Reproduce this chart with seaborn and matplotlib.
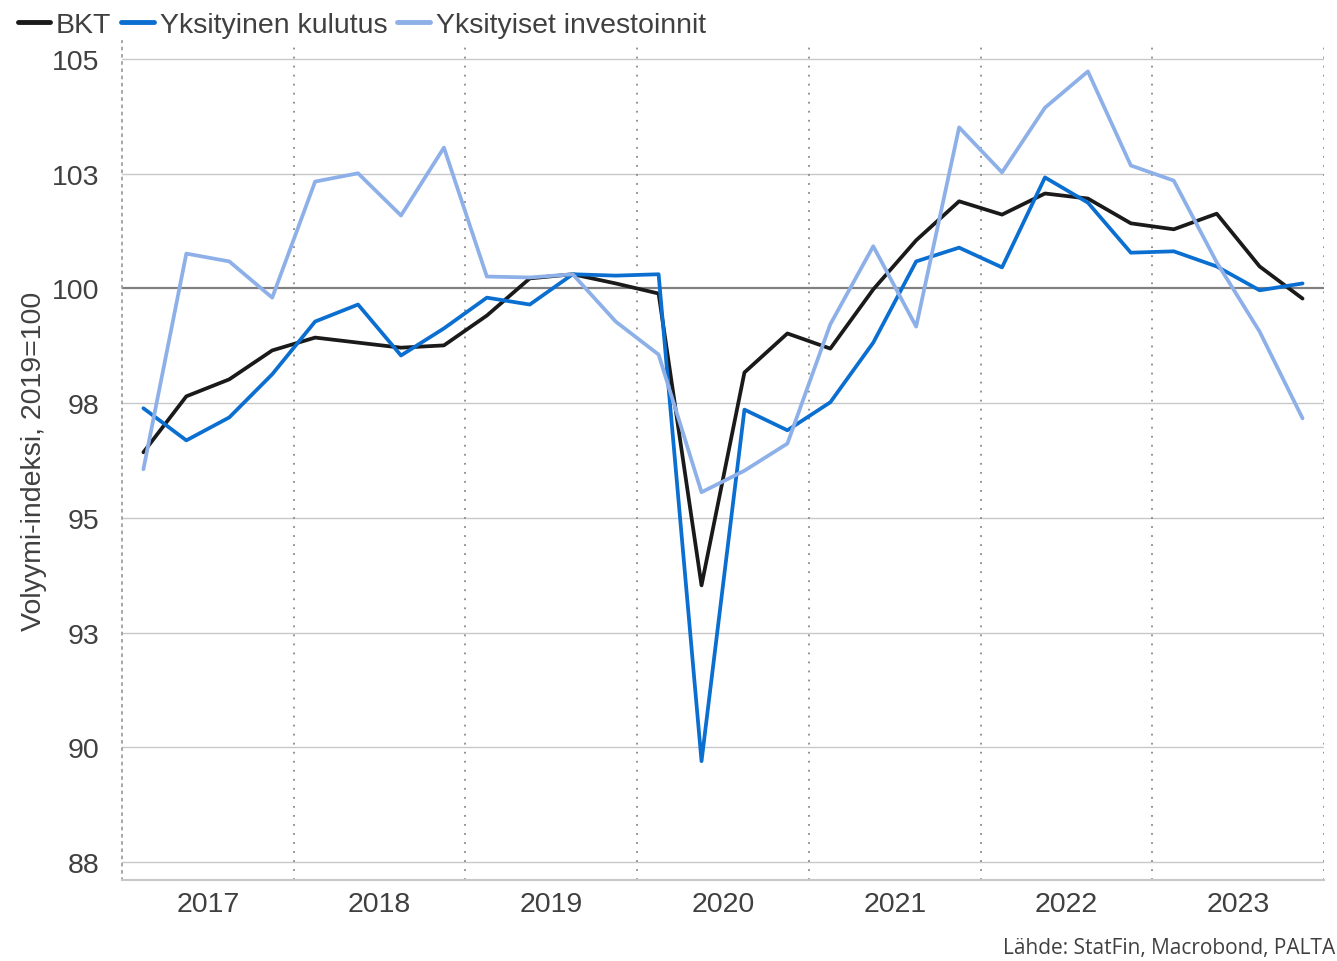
import numpy as np
import pandas as pd
import matplotlib
matplotlib.use("Agg")
import matplotlib.pyplot as plt
import seaborn as sns

years = ["2017", "2018", "2019", "2020", "2021", "2022", "2023"]
quarters = [f"{y}Q{q}" for y in years for q in range(1, 5)]

bkt = [96.43, 97.65, 98.02, 98.65, 98.93, 98.82, 98.71, 98.76,
       99.41, 100.22, 100.31, 100.11, 99.89, 93.53, 98.17, 99.02,
       98.69, 99.98, 101.05, 101.90, 101.61, 102.07, 101.96, 101.42,
       101.29, 101.63, 100.48, 99.78]
kulutus = [97.39, 96.69, 97.19, 98.13, 99.28, 99.65, 98.54, 99.13,
           99.80, 99.65, 100.31, 100.28, 100.31, 89.70, 97.36, 96.91,
           97.52, 98.82, 100.59, 100.89, 100.46, 102.42, 101.87, 100.78,
           100.81, 100.48, 99.96, 100.11]
investoinnit = [96.06, 100.76, 100.59, 99.80, 102.33, 102.51, 101.59, 103.07,
                100.26, 100.24, 100.31, 99.28, 98.56, 95.56, 96.03, 96.62,
                99.22, 100.92, 99.17, 103.51, 102.53, 103.94, 104.73, 102.68,
                102.35, 100.57, 99.06, 97.17]

series_names = ["BKT", "Yksityinen kulutus", "Yksityiset investoinnit"]
colors = ["#1a1a1a", "#0a6fd0", "#8db0e8"]

ytick_vals = [87.5, 90, 92.5, 95, 97.5, 100, 102.5, 105]
ytick_labels = ["88", "90", "93", "95", "98", "100", "103", "105"]

df = pd.DataFrame({
    "idx": np.tile(np.arange(len(quarters)), 3),
    "value": bkt + kulutus + investoinnit,
    "series": np.repeat(series_names, len(quarters)),
})

sns.set_style("white")
plt.rcParams["font.family"] = ["Liberation Sans", "DejaVu Sans"]
text_col = "#404040"

fig = plt.figure(figsize=(13.37, 9.62), dpi=100)
ax = fig.add_axes([0.0912, 0.0842, 0.8991, 0.8720])

# grid first
for v in ytick_vals:
    if v == 100:
        ax.axhline(v, color="#808080", lw=1.6, zorder=1)
    else:
        ax.axhline(v, color="#c8c8c8", lw=1.0, zorder=1)
for b in np.arange(3.5, 27, 4):
    ax.axvline(b, color="#8a8a8a", lw=1.3, ls=(0, (1, 4)), zorder=1)
ax.axvline(27.5, color="#8a8a8a", lw=1.3, ls=(0, (1, 4)), zorder=1)

sns.lineplot(data=df, x="idx", y="value", hue="series", palette=colors,
             linewidth=2.7, ax=ax, legend=False, zorder=3)

ax.set_xlim(-0.5, 27.5)
ax.set_ylim(87.11, 105.39)

ax.set_yticks(ytick_vals)
ax.set_yticklabels(ytick_labels)
ax.set_xticks(np.arange(-0.5, 28, 4))
ax.set_xticklabels([])
ax.set_xticks(np.arange(1.5, 28, 4), minor=True)
ax.set_xticklabels(years, minor=True)
ax.tick_params(axis="x", which="major", direction="in", length=9,
               color="#8a8a8a", width=1.2)
ax.tick_params(axis="x", which="minor", length=0, pad=8,
               labelsize=20.5, labelcolor=text_col)
ax.tick_params(axis="y", length=0, pad=16, labelsize=20.5, labelcolor=text_col)

ax.set_xlabel("")
ax.set_ylabel("Volyymi-indeksi, 2019=100", fontsize=20.5, color=text_col,
              labelpad=4)

for s in ["top", "right"]:
    ax.spines[s].set_visible(False)
ax.spines["bottom"].set_color("#c8c8c8")
ax.spines["bottom"].set_linewidth(1.5)
ax.spines["left"].set_color("#a0a0a0")
ax.spines["left"].set_linewidth(1.3)
ax.spines["left"].set_linestyle((0, (1, 3)))

handles = [plt.Line2D([], [], color=c, lw=3.5) for c in colors]
fig.legend(handles, series_names, loc="upper left", bbox_to_anchor=(-0.006, 1.013),
           ncol=3, frameon=False, fontsize=20.5, handlelength=1.15,
           handletextpad=0.2, columnspacing=0.35, labelcolor=text_col)

fig.text(0.999, 0.003, "Lähde: StatFin, Macrobond, PALTA", ha="right",
         va="bottom", fontsize=15, color=text_col, family=["Open Sans", "DejaVu Sans"])

fig.savefig("out.png", dpi=100)
